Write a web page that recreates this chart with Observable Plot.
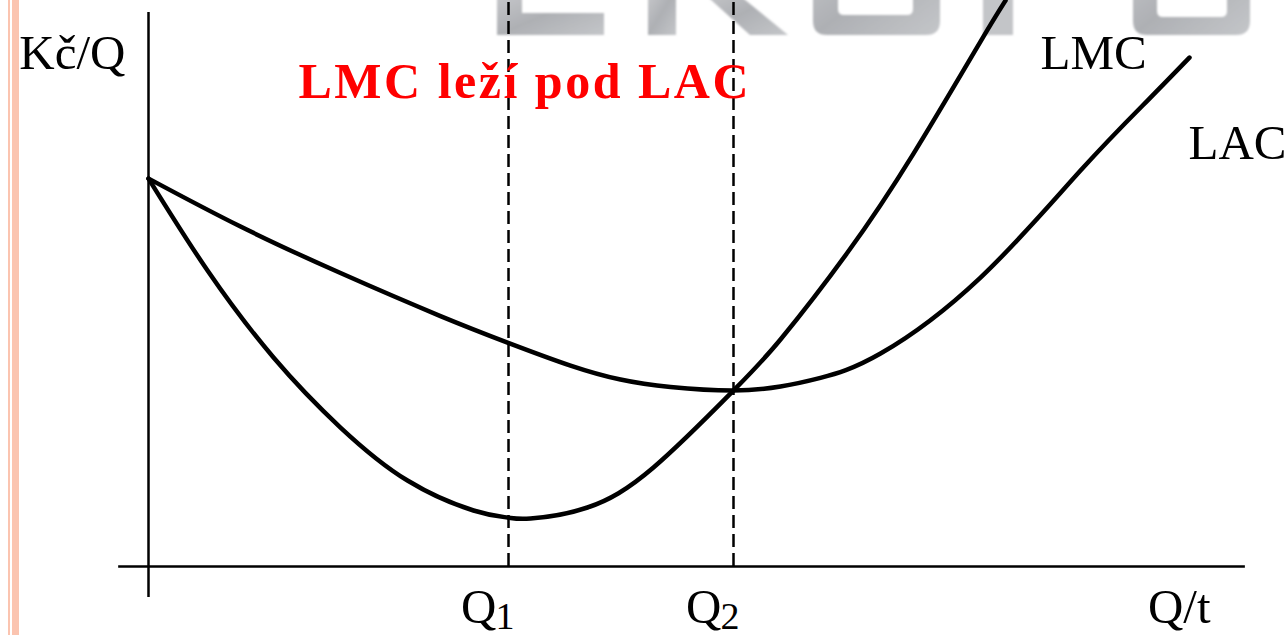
<!DOCTYPE html>
<html>
<head>
<meta charset="utf-8">
<script src="https://cdn.jsdelivr.net/npm/d3@7"></script>
<script src="https://cdn.jsdelivr.net/npm/@observablehq/plot@0.6"></script>
<style>
  html, body { margin: 0; padding: 0; background: #fff; }
  #slide { position: relative; width: 1288px; height: 635px; overflow: hidden; background: #fff; }
  .stripe { position: absolute; top: 0; bottom: 0; background: #fbc4b0; }
  #brand { position: absolute; left: 0; top: 0; }
  #chart { position: absolute; left: 0; top: 0; }
</style>
</head>
<body>
<div id="slide">
  <div class="stripe" style="left:8px;width:2px"></div>
  <div class="stripe" style="left:12px;width:7px"></div>
  <!-- faded brand lettering along the top edge of the slide -->
  <svg id="brand" width="1288" height="44">
    <defs>
      <linearGradient id="metal" x1="0" y1="0" x2="1" y2="1">
        <stop offset="0" stop-color="#c9cacd"/>
        <stop offset="0.5" stop-color="#aeb0b4"/>
        <stop offset="1" stop-color="#c4c6c9"/>
      </linearGradient>
      <filter id="soft"><feGaussianBlur stdDeviation="0.9"/></filter>
    </defs>
    <g fill="url(#metal)" filter="url(#soft)">
      <path d="M497,-10 H522 V13 H604 V35 H497 Z"/>
      <rect x="648" y="-10" width="28" height="45"/>
      <path d="M700,-10 H733 L788,35 H750 Z"/>
      <path fill-rule="evenodd" d="M813,-60 H940 V21 Q940,35 926,35 H827 Q813,35 813,21 Z M838,-60 H913 V9 Q913,15 907,15 H844 Q838,15 838,9 Z"/>
      <rect x="983" y="-10" width="30" height="45" fill="#c3c5c8"/>
      <path fill-rule="evenodd" d="M1133,-60 H1250 V21 Q1250,35 1236,35 H1147 Q1133,35 1133,21 Z M1157,-60 H1227 V11 Q1227,17 1221,17 H1163 Q1157,17 1157,11 Z"/>
    </g>
  </svg>
  <div id="chart"></div>
</div>
<script>
// Output quantity Q and long-run cost (Kč per unit) along each curve
const lacQ = [0, 1.573, 3.282, 4.991, 6.137, 7.214, 8.068, 8.923, 10, 10.803, 11.487, 12.513, 14.222, 15.932, 17.077, 17.795];
const lacC = [10, 8.763, 7.564, 6.456, 5.773, 5.180, 4.820, 4.626, 4.536, 4.639, 4.863, 5.490, 7.448, 10.206, 12.010, 13.119];

const lmcQ = [0, 1.009, 2.137, 3.282, 4.427, 5.556, 6.137, 6.530, 7.504, 8.632, 10, 10.803, 11.949, 13.077, 14.222, 14.650];
const lmcC = [10, 7.629, 5.387, 3.582, 2.216, 1.443, 1.263, 1.237, 1.521, 2.552, 4.536, 5.851, 8.093, 10.644, 13.531, 14.588];

// Marked output levels on the quantity axis
const qMarks = [6.154, 10];
const qMarkSubs = ["1", "2"];

const curveNames = ["LMC", "LAC"];
const axisNames = ["Kč/Q", "Q/t"];
const headline = "LMC leží pod LAC";

const lac = lacQ.map((q, i) => ({q, c: lacC[i]}));
const lmc = lmcQ.map((q, i) => ({q, c: lmcC[i]}));
const ticks = qMarks.map((q, i) => ({q, sub: qMarkSubs[i]}));

const cMax = 14.59;
const serif = "'Liberation Serif', 'Times New Roman', serif";

const chart = Plot.plot({
  width: 1288,
  height: 635,
  marginLeft: 148,
  marginRight: 87,
  marginTop: 0,
  marginBottom: 69,
  x: {domain: [0, 18], axis: null},
  y: {domain: [0, cMax], axis: null},
  style: {background: "transparent", fontFamily: serif, overflow: "visible", color: "#000"},
  marks: [
    // dashed guides at Q1 and Q2
    Plot.ruleX(ticks, {x: "q", y1: 0, y2: cMax, stroke: "#000", strokeWidth: 2.5, strokeDasharray: "13,6"}),
    // axes, slightly overshooting the origin
    Plot.ruleY([0], {x1: -0.51, x2: 18.75, stroke: "#000", strokeWidth: 2.5}),
    Plot.ruleX([0], {y1: -0.8, y2: 14.28, stroke: "#000", strokeWidth: 2.5}),
    // cost curves
    Plot.line(lac, {x: "q", y: "c", curve: "natural", stroke: "#000", strokeWidth: 4.5}),
    Plot.line(lmc, {x: "q", y: "c", curve: "natural", stroke: "#000", strokeWidth: 4.5}),
    // curve names next to their ends
    Plot.text(lmc, Plot.selectLast({x: "q", y: "c", text: () => curveNames[0], textAnchor: "start", lineAnchor: "bottom", dx: 35, dy: 68, fontSize: 49, fill: "#000"})),
    Plot.text(lac, Plot.selectLast({x: "q", y: "c", text: () => curveNames[1], textAnchor: "start", lineAnchor: "bottom", dx: -1, dy: 101, fontSize: 49, fill: "#000"})),
    // Q1 / Q2 labels under the axis
    Plot.text(ticks, {x: "q", frameAnchor: "bottom", text: () => "Q", textAnchor: "end", lineAnchor: "bottom", dx: -12, dy: 56, fontSize: 49, fill: "#000"}),
    Plot.text(ticks, {x: "q", frameAnchor: "bottom", text: "sub", textAnchor: "start", lineAnchor: "bottom", dx: -13, dy: 62, fontSize: 38, fill: "#000"}),
    // axis names
    Plot.text([axisNames[0]], {frameAnchor: "top-left", text: d => d, textAnchor: "end", lineAnchor: "bottom", dx: -23, dy: 68, fontSize: 49, fill: "#000"}),
    Plot.text([axisNames[1]], {frameAnchor: "bottom-right", text: d => d, textAnchor: "end", lineAnchor: "bottom", dx: 9, dy: 56, fontSize: 49, fill: "#000"}),
    // headline
    Plot.text([headline], {frameAnchor: "top-left", text: d => d, textAnchor: "start", lineAnchor: "bottom", dx: 150, dy: 97, fontSize: 50, fontWeight: "bold", fill: "#ff0000"})
  ]
});

d3.select(chart).selectAll("text")
  .filter(function () { return this.textContent === headline; })
  .style("letter-spacing", "2.5px");
document.getElementById("chart").append(chart);
</script>
</body>
</html>
